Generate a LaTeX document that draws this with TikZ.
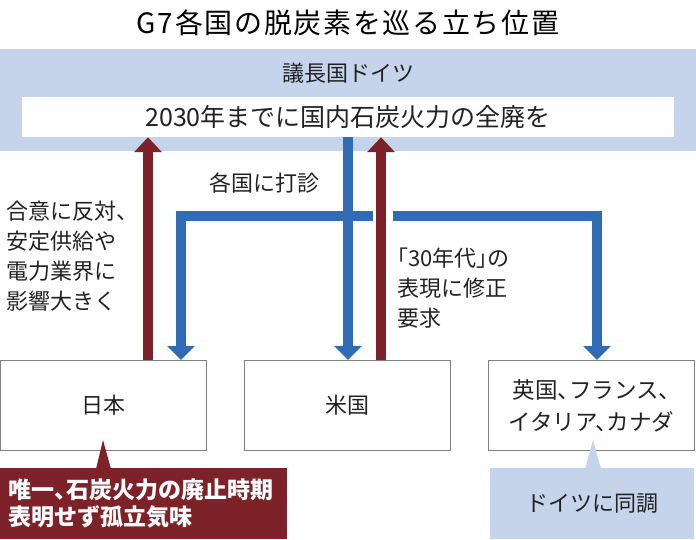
\documentclass[tikz,border=0pt]{standalone}
\usepackage{fontspec}
\setmainfont{Noto Sans CJK JP}
\usepackage{tikz}
\usetikzlibrary{arrows.meta}
\definecolor{bandblue}{HTML}{C6D4EB}
\definecolor{arrowblue}{HTML}{2F6CB4}
\definecolor{arrowred}{HTML}{7D2229}
\definecolor{boxgray}{HTML}{808080}
\definecolor{textgray}{HTML}{222222}
\newcommand{\halfpunct}{\addfontfeatures{RawFeature=+halt}}

\begin{document}
\begin{tikzpicture}[x=1pt,y=-1pt,
        txt/.style={font=\fontsize{22}{30}\selectfont,inner sep=0pt,text=textgray},
        country/.style={shape=rectangle,draw=boxgray,line width=1.2pt,fill=white,minimum width=206pt,minimum height=90pt,txt,align=center},
        note/.style={shape=rectangle,minimum height=71pt,inner sep=0pt},
        blueline/.style={draw=arrowblue,line width=10.5pt},
        bluearrow/.style={blueline,-{Triangle[width=27pt,length=14pt]}},
        redarrow/.style={draw=arrowred,line width=10pt,-{Triangle[width=27pt,length=15pt]}}]
        \useasboundingbox (0,0) rectangle (696,539);

        \node[txt,text=black,font=\fontsize{28}{32}\selectfont\addfontfeatures{LetterSpace=6}] (title) at (348,23) {G7各国の脱炭素を巡る立ち位置};

        \node[shape=rectangle,fill=bandblue,minimum width=696pt,minimum height=102pt,inner sep=0pt] (band) at (348,100) {};
        \node[txt] (chair) at (348,73) {議長国ドイツ};
        \node[shape=rectangle,fill=white,minimum width=652pt,minimum height=40pt,txt,font=\fontsize{25}{30}\selectfont] (goal) at (348,117) {2030年までに国内石炭火力の全廃を};

        \node[country] (jp) at (103.5,405.5) {日本};
        \node[country] (us) at (347.5,405.5) {米国};
        \node[country,font=\fontsize{22.5}{32}\selectfont\halfpunct] (other) at (591.5,405.5) {英国、フランス、\\イタリア、カナダ};

        \coordinate (fork) at (348,216);
        \coordinate (gapl) at (373,216);
        \coordinate (gapr) at (393,216);
        \coordinate (jpin) at (181,360);
        \coordinate (otherin) at (597,360);
        \coordinate (jpout) at (148,360);
        \coordinate (usout) at (381,360);

        % Germany sounds out the others
        \path[bluearrow] (goal.south) -- (goal.south |- us.north);
        \path[bluearrow] (fork) -| (jpin);
        \path[blueline] (fork) -- (gapl);
        \path[bluearrow] (gapr) -| (otherin);

        % objections back to the chair
        \path[redarrow] (jpout) -- (jpout |- goal.south);
        \path[redarrow] (usout) -- (usout |- goal.south);

        \node[txt] (ask) at (264,183) {各国に打診};
        \node[txt,align=left,anchor=west] (jpreason) at (6,256.5) {合意に反対、\\安定供給や\\電力業界に\\影響大きく};
        \node[txt,font=\fontsize{22}{30}\selectfont\halfpunct,align=left,anchor=west] (usreq) at (397,288) {「30年代」の\\表現に修正\\要求};

        \node[note,fill=arrowred,minimum width=287pt,text width=269pt,align=left,text=white,font=\bfseries\fontsize{23}{27}\selectfont\halfpunct] (jpnote) at (143.5,503.5) {唯一、石炭火力の廃止時期\\表明せず孤立気味};
        \fill[arrowred] (96,469) -- (103,440) -- (111,469) -- cycle;

        \node[note,fill=bandblue,minimum width=204pt,txt] (denote) at (592,503.5) {ドイツに同調};
        \fill[bandblue] (585,469) -- (593,440) -- (601,469) -- cycle;
\end{tikzpicture}
\end{document}
